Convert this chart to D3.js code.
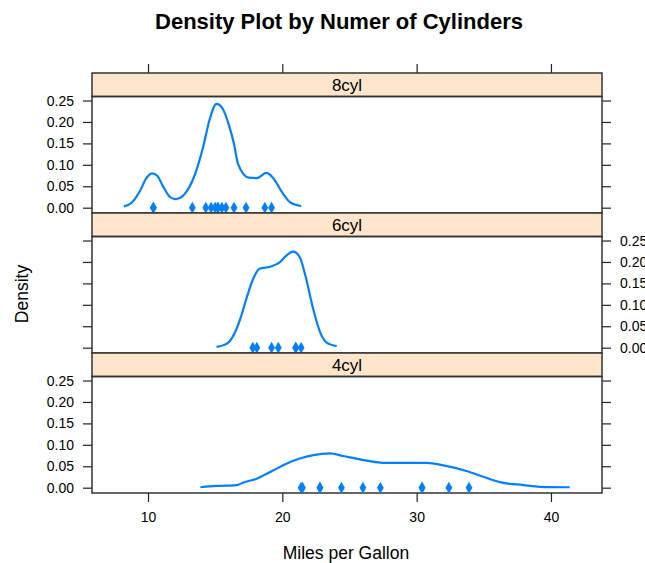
<!DOCTYPE html>
<html>
<head>
<meta charset="utf-8">
<script src="https://cdn.jsdelivr.net/npm/d3@7"></script>
<style>
  body { margin: 0; background: #fff; }
  text { font-family: "Liberation Sans", Arial, sans-serif; fill: #000; }
</style>
</head>
<body>
<script>
// mpg values (mtcars) by cylinder group
const panels = ['8cyl', '6cyl', '4cyl']
const mpg8 = [18.7, 14.3, 16.4, 17.3, 15.2, 10.4, 10.4, 14.7, 15.5, 15.2, 13.3, 19.2, 15.8, 15.0]
const mpg6 = [21.0, 21.0, 21.4, 18.1, 19.2, 17.8, 19.7]
const mpg4 = [22.8, 24.4, 22.8, 32.4, 30.4, 33.9, 21.5, 27.3, 26.0, 30.4, 21.4]

// density curves: [mpg, density]
const curve8 = [[8.2, 0.003], [8.8, 0.012], [9.4, 0.039], [9.9, 0.070], [10.3, 0.080], [10.7, 0.074],
    [11.1, 0.051], [11.6, 0.026], [12.0, 0.020], [12.4, 0.023], [12.9, 0.039], [13.5, 0.078],
    [14.1, 0.141], [14.6, 0.207], [15.1, 0.242], [15.5, 0.234], [16.0, 0.195], [16.4, 0.149],
    [16.7, 0.102], [17.5, 0.070], [18.1, 0.069], [18.8, 0.081], [19.3, 0.070], [20.0, 0.035],
    [20.6, 0.012], [21.4, 0.004]]
const curve6 = [[15.1, 0.002], [15.9, 0.010], [16.5, 0.037], [16.9, 0.070], [17.35, 0.117],
    [17.85, 0.162], [18.3, 0.184], [19.1, 0.189], [19.8, 0.199], [20.3, 0.215], [20.8, 0.224],
    [21.3, 0.211], [21.7, 0.170], [22.3, 0.090], [22.8, 0.037], [23.3, 0.012], [24.05, 0.004]]
const curve4 = [[13.9, 0.001], [15.1, 0.004], [16.6, 0.006], [17.1, 0.012], [18.1, 0.021],
    [19.3, 0.040], [20.3, 0.056], [21.3, 0.068], [22.3, 0.076], [23.55, 0.080], [24.5, 0.074],
    [26.3, 0.063], [27.5, 0.058], [30.75, 0.058], [32.0, 0.052], [33.7, 0.039], [35.0, 0.025],
    [36.2, 0.013], [37.95, 0.006], [39.2, 0.002], [41.4, 0.001]]

const xTicks = [10, 20, 30, 40]
const yTicks = [0, 0.05, 0.10, 0.15, 0.20, 0.25]

const W = 645, H = 563
const padL = 92, padR = 602, padT = 73
const stripH = 23.5, panelH = 116.5
const blue = '#0080ff'

const svg = d3.select('body').append('svg').attr('width', W).attr('height', H)

const x = d3.scaleLinear().domain([5.83, 43.8]).range([padL, padR])

const data = [
    { name: panels[0], pts: mpg8, curve: curve8, side: 'left' },
    { name: panels[1], pts: mpg6, curve: curve6, side: 'right' },
    { name: panels[2], pts: mpg4, curve: curve4, side: 'left' }
]

svg.append('text')
    .attr('x', 339).attr('y', 29)
    .attr('text-anchor', 'middle')
    .style('font-size', '22px').style('font-weight', 'bold')
    .text('Density Plot by Numer of Cylinders')

const line = d3.line().x(d => x(d[0]))

data.forEach((p, i) => {
    const y0 = padT + i * (stripH + panelH)
    const py = y0 + stripH
    const y = d3.scaleLinear().domain([-0.0124, 0.2594]).range([py + panelH, py])

    // strip
    svg.append('rect')
        .attr('x', padL).attr('y', y0).attr('width', padR - padL).attr('height', stripH)
        .attr('fill', '#ffe5cc').attr('stroke', '#333').attr('stroke-width', 1.5)
    svg.append('text')
        .attr('x', (padL + padR) / 2).attr('y', y0 + stripH / 2 + 6)
        .attr('text-anchor', 'middle')
        .style('font-size', '17px')
        .text(p.name)

    // axes both sides
    const gl = svg.append('g').attr('transform', `translate(${padL},0)`)
        .call(d3.axisLeft(y).tickValues(yTicks).tickSize(9).tickPadding(9)
            .tickFormat(p.side === 'left' ? d3.format('.2f') : ''))
    const gr = svg.append('g').attr('transform', `translate(${padR},0)`)
        .call(d3.axisRight(y).tickValues(yTicks).tickSize(9).tickPadding(9)
            .tickFormat(p.side === 'right' ? d3.format('.2f') : ''))
    ;[gl, gr].forEach(g => {
        g.select('.domain').remove()
        g.selectAll('line').attr('stroke', '#222').attr('stroke-width', 1.2)
        g.selectAll('text').style('font-size', '14px')
            .style('font-family', '"Liberation Sans", Arial, sans-serif')
    })

    // panel box
    svg.append('rect')
        .attr('x', padL).attr('y', py).attr('width', padR - padL).attr('height', panelH)
        .attr('fill', 'none').attr('stroke', '#333').attr('stroke-width', 1.5)

    svg.append('path')
        .datum(p.curve)
        .attr('d', line.y(d => y(d[1])).curve(d3.curveMonotoneX))
        .attr('fill', 'none').attr('stroke', blue).attr('stroke-width', 2.2)

    svg.append('g').selectAll('path')
        .data(p.pts).enter()
        .append('path')
        .attr('d', d3.symbol().type(d3.symbolDiamond).size(40))
        .attr('transform', d => `translate(${x(d)},${y(0)})`)
        .attr('fill', blue)
})

// x axes: top (ticks only) and bottom
const bottom = padT + 3 * (stripH + panelH)
const gt = svg.append('g').attr('transform', `translate(0,${padT})`)
    .call(d3.axisTop(x).tickValues(xTicks).tickSize(9).tickFormat(''))
const gb = svg.append('g').attr('transform', `translate(0,${bottom})`)
    .call(d3.axisBottom(x).tickValues(xTicks).tickSize(9).tickPadding(10))
;[gt, gb].forEach(g => {
    g.select('.domain').remove()
    g.selectAll('line').attr('stroke', '#222').attr('stroke-width', 1.2)
    g.selectAll('text').style('font-size', '14px')
        .style('font-family', '"Liberation Sans", Arial, sans-serif')
})

svg.append('text')
    .attr('x', 346).attr('y', 559)
    .attr('text-anchor', 'middle')
    .style('font-size', '17.5px')
    .text('Miles per Gallon')

svg.append('text')
    .attr('transform', 'translate(28,294) rotate(-90)')
    .attr('text-anchor', 'middle')
    .style('font-size', '17.5px')
    .text('Density')
</script>
</body>
</html>
